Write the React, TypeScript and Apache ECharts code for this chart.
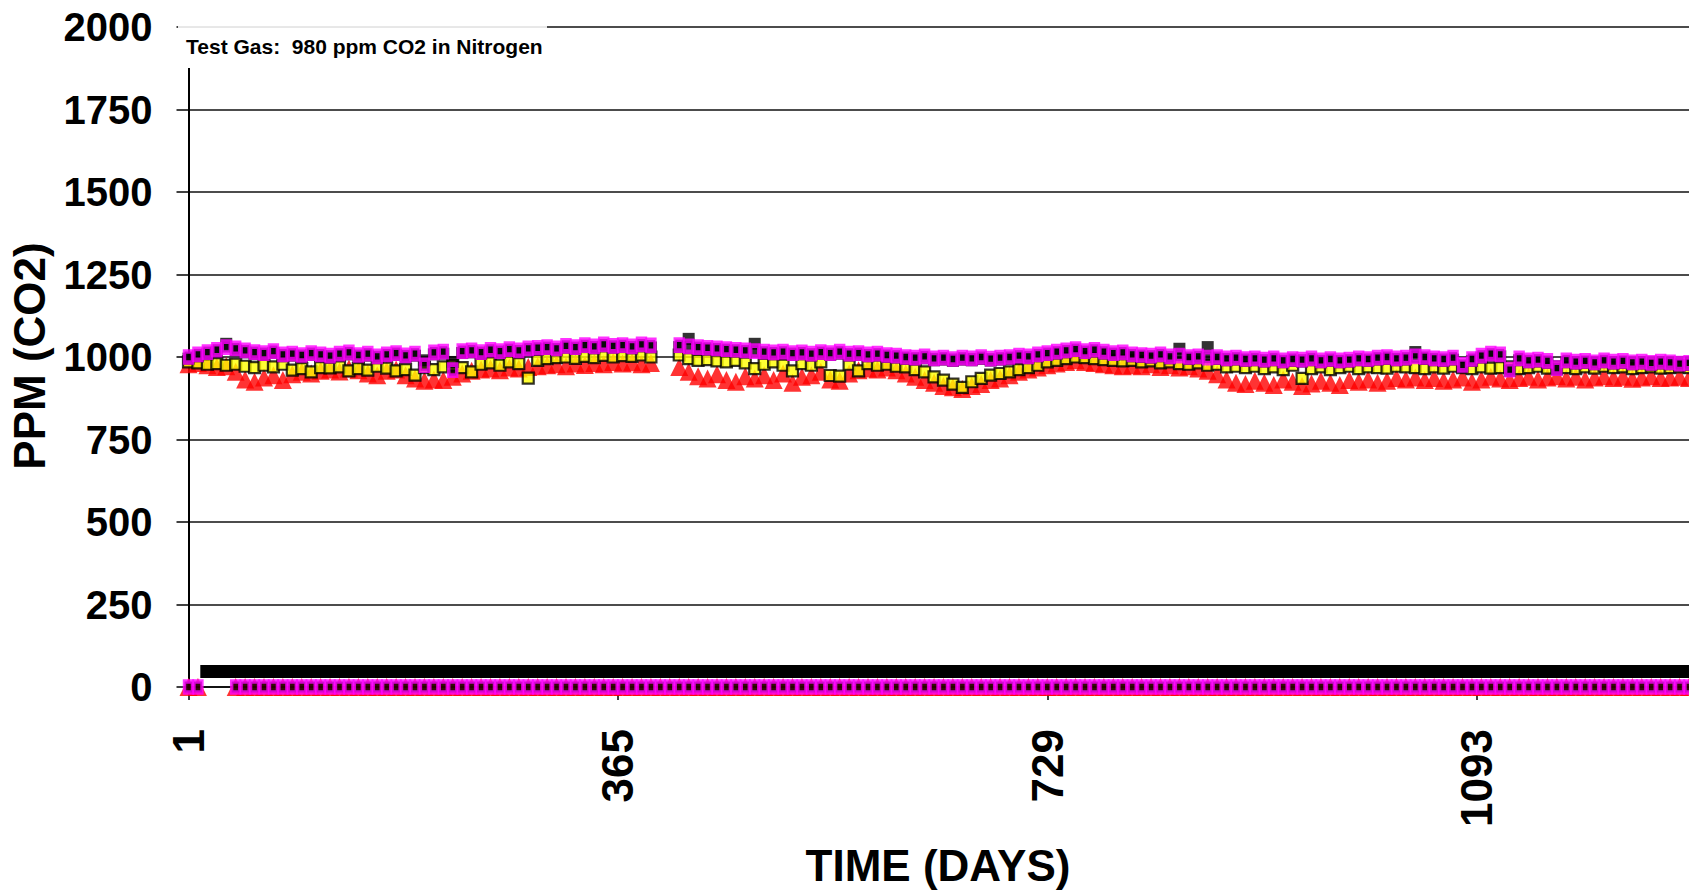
import React, { useEffect, useRef } from "react";
import * as echarts from "echarts";

// Sampling days (every 8th day of the record)
const DAYS = [1,9,17,25,33,41,49,57,65,73,81,89,97,105,113,121,129,137,145,153,161,169,177,185,193,201,209,217,225,233,241,249,257,265,273,281,289,297,305,313,321,329,337,345,353,361,369,377,385,393,401,409,417,425,433,441,449,457,465,473,481,489,497,505,513,521,529,537,545,553,561,569,577,585,593,601,609,617,625,633,641,649,657,665,673,681,689,697,705,713,721,729,737,745,753,761,769,777,785,793,801,809,817,825,833,841,849,857,865,873,881,889,897,905,913,921,929,937,945,953,961,969,977,985,993,1001,1009,1017,1025,1033,1041,1049,1057,1065,1073,1081,1089,1097,1105,1113,1121,1129,1137,1145,1153,1161,1169,1177,1185,1193,1201,1209,1217,1225,1233,1241,1249,1257,1265,1273];

const MAGENTA = [
  1000,1008,1015,1022,1030,1026,1020,1015,1012,1018,
  1008,1010,1006,1012,1008,1004,1010,1014,1006,1010,
  1002,1008,1012,1005,1010,975,1014,1016,960,1018,
  1020,1015,1022,1018,1024,1020,1026,1028,1030,1026,
  1034,1030,1036,1032,1038,1034,1036,1032,1038,1035,
  null,null,1036,1032,1030,1028,1026,1024,1022,1020,
  1018,1016,1014,1016,1012,1014,1010,1015,1012,1016,
  1010,1012,1008,1010,1006,1004,1000,998,1002,996,
  998,994,998,996,1000,995,998,1000,1004,1002,
  1008,1012,1016,1020,1024,1018,1022,1016,1012,1014,
  1008,1006,1004,1008,1002,1004,1000,1002,998,1000,
  996,998,994,996,992,996,990,994,992,996,
  990,994,990,992,996,994,998,1000,996,998,
  1002,1000,996,994,998,976,994,1004,1010,1008,
  962,996,990,992,988,966,990,986,988,984,
  990,986,988,984,986,982,986,984,980,982,
];

const YELLOW = [
  985,982,978,980,975,978,972,968,975,970,
  978,960,965,955,968,967,970,958,965,960,
  972,966,958,962,945,968,962,970,975,968,
  955,978,982,975,985,980,936,990,995,998,
  1000,996,1002,998,1005,1000,1004,1002,1006,1000,
  null,null,1006,995,990,992,988,985,990,982,
  965,978,985,975,958,980,975,985,944,942,
  978,958,980,975,978,972,970,962,955,940,
  930,918,908,925,935,945,950,955,962,968,
  975,985,990,995,1000,998,995,992,990,988,
  990,985,988,982,985,980,978,982,975,978,
  970,972,968,972,965,970,962,975,935,965,
  970,962,968,972,965,970,968,966,972,970,
  968,965,970,966,972,968,965,970,966,968,
  970,965,968,972,966,970,968,965,970,966,
  972,968,970,965,968,970,966,968,970,968,
];

const RED = [
  978,982,975,970,972,955,932,925,938,945,
  930,948,955,950,958,962,956,965,960,950,
  945,958,962,945,935,928,932,930,940,950,
  958,962,965,960,968,965,970,972,975,978,
  972,980,976,982,978,985,980,984,978,982,
  null,null,970,955,942,935,948,930,925,942,
  935,945,930,950,922,940,945,955,932,928,
  950,960,965,962,968,960,950,940,930,922,
  912,908,903,912,918,930,935,945,955,962,
  968,975,980,985,990,985,982,978,975,972,
  975,972,978,970,975,968,972,965,958,948,
  932,922,918,928,922,915,932,925,912,920,
  928,922,915,930,925,932,922,928,936,932,
  938,930,936,928,932,938,925,932,940,935,
  930,936,940,932,938,942,935,940,932,938,
  942,936,940,934,938,942,936,938,940,936,
];

const BLACK = [
  995,1002,1008,1015,1040,1020,1014,1008,1006,1012,
  1002,1004,1000,1006,1002,998,1004,1008,1000,1004,
  996,1002,1006,999,1004,990,1008,1010,985,1012,
  1014,1009,1016,1012,1018,1014,1020,1022,1024,1020,
  1028,1024,1030,1026,1032,1028,1030,1026,1032,1029,
  null,null,1030,1055,1024,1022,1020,1018,1016,1014,
  1040,1010,1008,1010,1006,1008,1004,1009,1006,1010,
  1004,1006,1002,1004,1000,998,994,992,996,990,
  992,988,992,990,994,989,992,994,998,996,
  1002,1006,1010,1014,1018,1012,1016,1010,1006,1008,
  1002,1000,998,1002,996,1025,994,996,1030,994,
  990,992,988,990,986,990,984,988,986,990,
  984,988,984,986,990,988,992,994,990,992,
  1015,994,990,988,992,970,988,998,1004,1002,
  958,990,984,986,982,962,984,980,982,978,
  984,980,982,978,980,976,980,978,974,976,
];

// Readings of zero (day ranges) and the black baseline band near 47 ppm
const ZERO_RANGES = [[1, 9], [41, 1273]];
const ZERO_VALUE = 0;
const BAND_DAYS = [11, 1273];
const BAND_VALUE = 47;

const X_MIN = 1;
const X_MAX = 1273;
const X_TICKS = [1, 365, 729, 1093];
const Y_MIN = 0;
const Y_MAX = 2000;
const Y_STEP = 250;

const TITLE_X = "TIME (DAYS)";
const TITLE_Y = "PPM (CO2)";
const NOTE = "Test Gas:  980 ppm CO2 in Nitrogen";

const FONT = "Liberation Sans, Arial, sans-serif";

function pairs(vals: (number | null)[]) {
  return DAYS.map((d, i) => [d, vals[i]]).filter((p) => p[1] != null);
}

const zeroPts = DAYS.filter((d) => ZERO_RANGES.some(([a, b]) => d >= a && d <= b)).map((d) => [d, ZERO_VALUE]);

const magentaStyle = {
  symbol: "rect",
  symbolSize: [8, 11],
  itemStyle: { color: "#000000", borderColor: "#ff00ff", borderWidth: 4 },
};

const plain = (v: number) => String(v);

export default function App() {
  const ref = useRef<HTMLDivElement>(null);
  useEffect(() => {
    if (!ref.current) return;
    const chart = echarts.init(ref.current, null, { renderer: "svg" });
    chart.setOption({
      animation: false,
      backgroundColor: "#ffffff",
      grid: { left: 188.5, top: 27, right: 0, bottom: 206, containLabel: false },
      xAxis: {
        type: "value",
        min: X_MIN,
        max: X_MAX,
        axisLine: { show: true, onZero: false, lineStyle: { color: "#000", width: 1.5 } },
        axisTick: { show: true, customValues: X_TICKS, length: 13, lineStyle: { color: "#000", width: 1.5 } },
        axisLabel: {
          customValues: X_TICKS,
          formatter: plain,
          rotate: 90,
          margin: 42,
          fontSize: 44,
          fontWeight: "bold",
          fontFamily: FONT,
          color: "#000",
        },
        splitLine: { show: false },
      },
      yAxis: {
        type: "value",
        min: Y_MIN,
        max: Y_MAX,
        interval: Y_STEP,
        axisLine: { show: true, lineStyle: { color: "#000", width: 2 } },
        axisTick: { show: true, length: 12, lineStyle: { color: "#000", width: 1.5 } },
        axisLabel: {
          formatter: plain,
          margin: 36,
          fontSize: 40,
          fontWeight: "bold",
          fontFamily: FONT,
          color: "#000",
        },
        splitLine: { show: true, lineStyle: { color: "#111", width: 1.5 } },
      },
      series: [
        {
          type: "scatter",
          clip: false,
          symbol: "triangle",
          symbolSize: 18,
          itemStyle: { color: "#ff0000" },
          data: pairs(RED),
        },
        {
          type: "scatter",
          clip: false,
          symbol: "triangle",
          symbolSize: 18,
          itemStyle: { color: "#ff0000" },
          data: zeroPts,
        },
        {
          type: "line",
          clip: false,
          symbol: "none",
          lineStyle: { color: "#000", width: 13, cap: "butt" },
          data: BAND_DAYS.map((d) => [d, BAND_VALUE]),
        },
        {
          type: "scatter",
          clip: false,
          symbol: "rect",
          symbolSize: 11,
          itemStyle: { color: "#ffff00", borderColor: "#000", borderWidth: 2.2 },
          data: pairs(YELLOW),
        },
        {
          type: "scatter",
          clip: false,
          symbol: "rect",
          symbolSize: 12,
          itemStyle: { color: "#000" },
          data: pairs(BLACK),
        },
        { type: "scatter", clip: false, ...magentaStyle, data: pairs(MAGENTA) },
        { type: "scatter", clip: false, ...magentaStyle, data: zeroPts },
      ],
      graphic: [
        {
          type: "rect",
          z: 100,
          shape: { x: 178, y: 18, width: 369, height: 50 },
          style: { fill: "#ffffff" },
        },
        {
          type: "line",
          z: 101,
          shape: { x1: 178, y1: 27, x2: 547, y2: 27 },
          style: { stroke: "#d0d0d0", lineWidth: 1 },
        },
        {
          type: "text",
          z: 102,
          x: 186,
          y: 46,
          style: {
            text: NOTE,
            fontSize: 21,
            fontWeight: "bold",
            fontFamily: FONT,
            fill: "#000",
            textAlign: "left",
            textVerticalAlign: "middle",
          },
        },
        {
          type: "text",
          z: 102,
          x: 938,
          y: 865,
          style: {
            text: TITLE_X,
            fontSize: 44,
            fontWeight: "bold",
            fontFamily: FONT,
            fill: "#000",
            textAlign: "center",
            textVerticalAlign: "middle",
          },
        },
        {
          type: "text",
          z: 102,
          x: 29,
          y: 356,
          rotation: Math.PI / 2,
          style: {
            text: TITLE_Y,
            fontSize: 44,
            fontWeight: "bold",
            fontFamily: FONT,
            fill: "#000",
            textAlign: "center",
            textVerticalAlign: "middle",
          },
        },
      ],
    });
    return () => chart.dispose();
  }, []);
  return (
    <div
      ref={ref}
      style={{ position: "fixed", left: 0, top: 0, width: 1689, height: 893, background: "#fff" }}
    />
  );
}
